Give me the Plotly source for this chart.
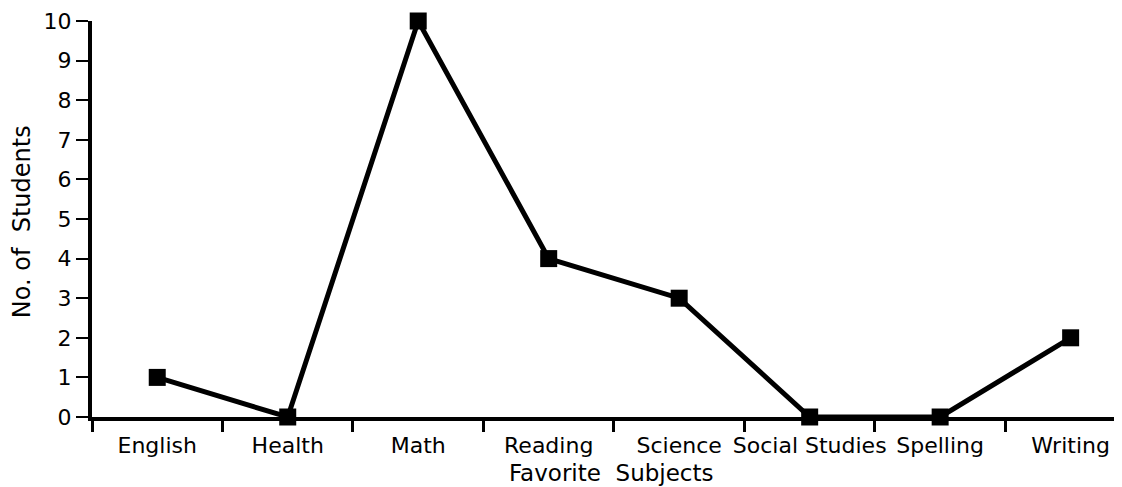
import plotly.graph_objects as go

subjects = ["English", "Health", "Math", "Reading", "Science", "Social Studies", "Spelling", "Writing"]
num_students = [1, 0, 10, 4, 3, 0, 0, 2]
y_ticks = list(range(0, 11))

font_family = "DejaVu Sans"

# the page body keeps its 8px margin, so the figure is 8px smaller and the margins shifted
fig = go.Figure()
fig.add_trace(go.Scatter(
    x=subjects,
    y=num_students,
    mode="lines+markers",
    line=dict(color="black", width=5),
    marker=dict(symbol="square", size=17, color="black"),
    cliponaxis=False,
    showlegend=False,
))

fig.update_layout(
    width=1114,
    height=479,
    margin=dict(l=84, r=7, t=13, b=70),
    paper_bgcolor="white",
    plot_bgcolor="white",
    font=dict(family=font_family, size=22, color="black"),
)

fig.update_xaxes(
    type="category",
    range=[-0.5, 7.34],
    tickson="boundaries",
    ticks="outside",
    ticklen=11,
    tickwidth=3,
    tickcolor="black",
    tickangle=0,
    ticklabelstandoff=6,
    showline=True,
    linecolor="black",
    linewidth=4,
    showgrid=False,
    zeroline=False,
    automargin=False,
    tickfont=dict(size=22),
)

fig.update_yaxes(
    range=[0, 10],
    tickvals=y_ticks,
    ticks="outside",
    ticklen=12,
    tickwidth=2,
    tickcolor="black",
    showline=True,
    linecolor="black",
    linewidth=4,
    showgrid=False,
    zeroline=False,
    automargin=False,
    tickfont=dict(size=22),
)

# axis titles as annotations so they sit where the original has them
fig.add_annotation(
    text="Favorite  Subjects", xref="paper", yref="paper",
    x=0.508, y=-0.141, xanchor="center", yanchor="middle",
    showarrow=False, font=dict(size=23),
)
fig.add_annotation(
    text="No. of  Students", xref="paper", yref="paper",
    x=-0.0684, y=0.492, xanchor="center", yanchor="middle", textangle=-90,
    showarrow=False, font=dict(size=24),
)

fig.write_html("out.html")
